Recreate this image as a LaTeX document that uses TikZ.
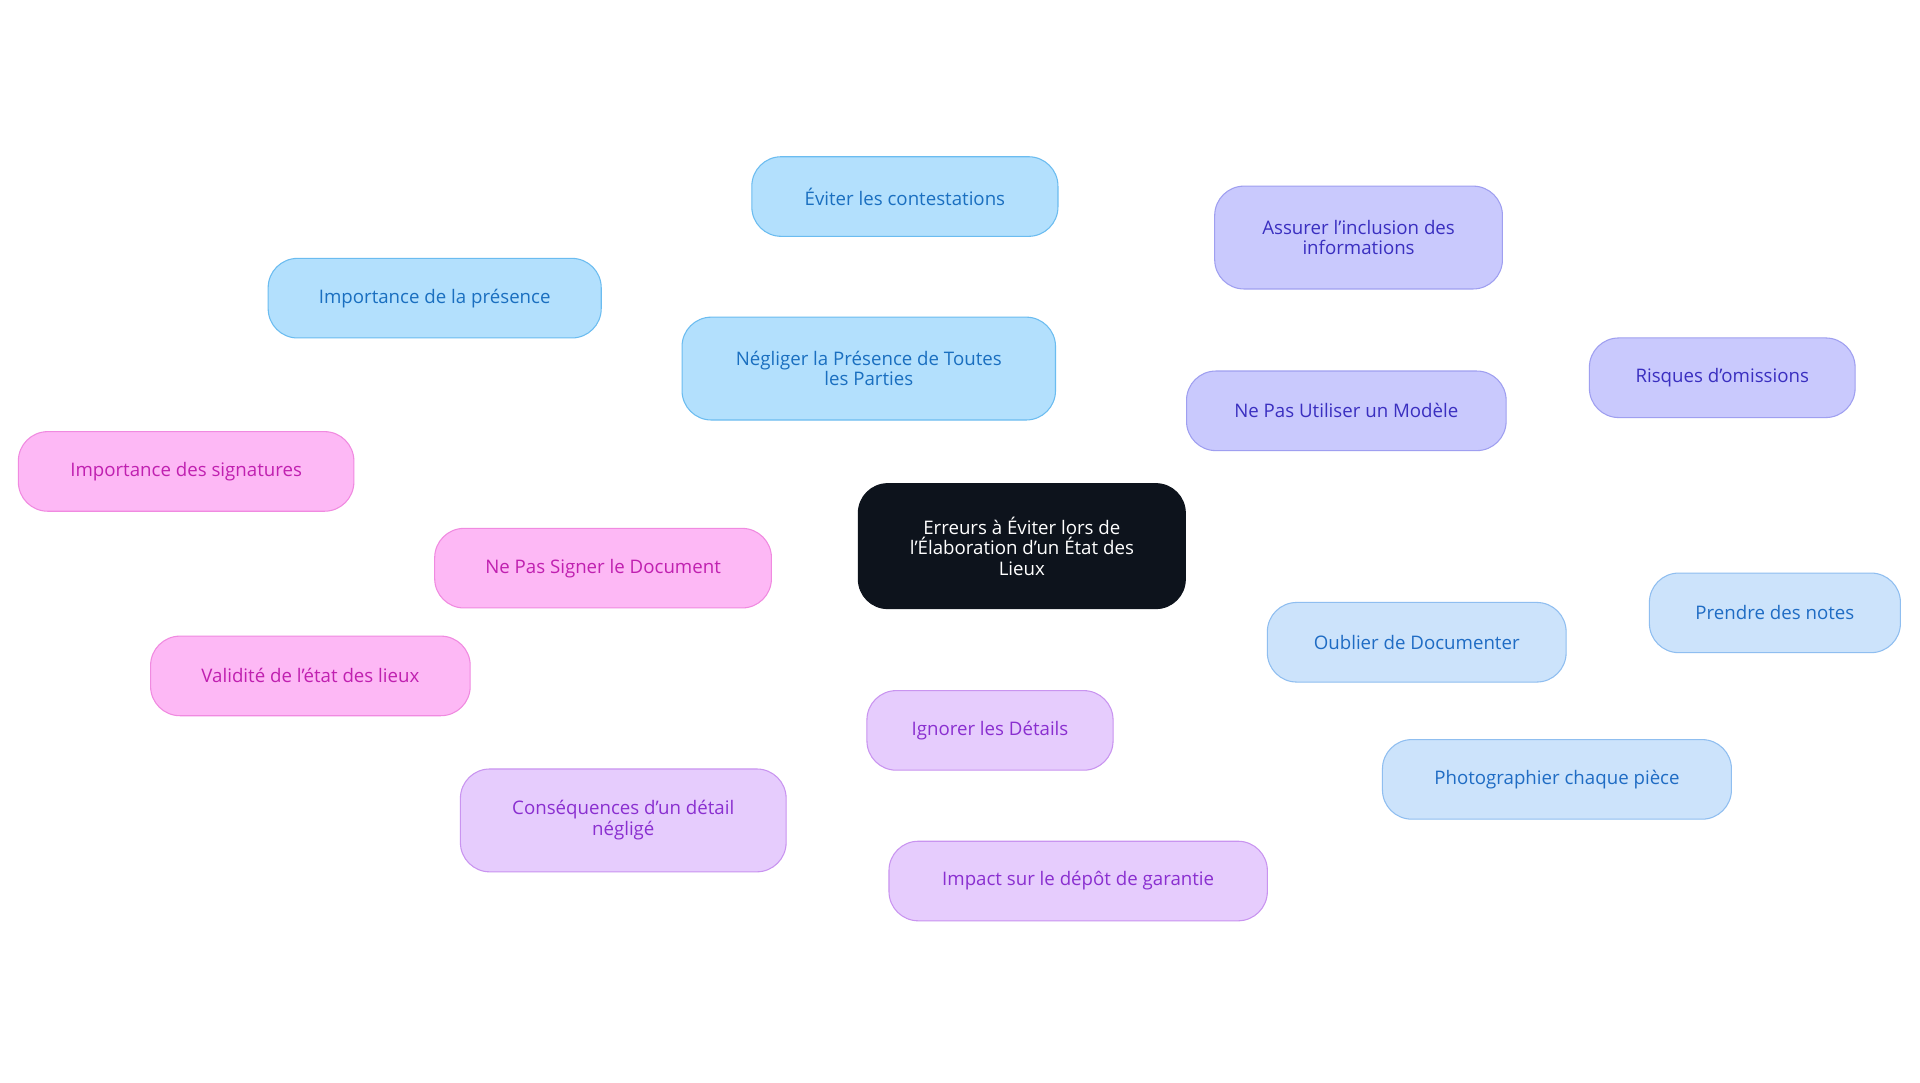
\documentclass[tikz,border=0pt]{standalone}
\usepackage{fontspec}
\setmainfont{Open Sans}
\usetikzlibrary{backgrounds}
\definecolor{cfill}{HTML}{0D131C}
\definecolor{bf}{HTML}{B3E0FD}\definecolor{bb}{HTML}{6BBCF0}\definecolor{bt}{HTML}{1A6FC0}
\definecolor{vf}{HTML}{C9C9FD}\definecolor{vb}{HTML}{9F9FF0}\definecolor{vt}{HTML}{3A2FC0}
\definecolor{lf}{HTML}{CCE3FB}\definecolor{lb}{HTML}{8FBEF0}\definecolor{lt}{HTML}{1F6CC4}
\definecolor{pf}{HTML}{E6CCFD}\definecolor{pb}{HTML}{C994F0}\definecolor{pt}{HTML}{8A2FD0}
\definecolor{mf}{HTML}{FDB8F5}\definecolor{mb}{HTML}{F08AE0}\definecolor{mt}{HTML}{C020B0}
\begin{document}
\begin{tikzpicture}[x=0.918pt,y=-0.918pt,
  box/.style n args={4}{draw=#2,fill=#1,text=#3,rounded corners=22pt,line width=0.8pt,
    minimum width=#4*0.918pt,align=center,font=\fontsize{14}{15.5}\selectfont,inner sep=0pt},
  bx/.style 2 args={box={#1}{#2}{#1t}{0}},
  e/.style={line width=1.6pt}]
\useasboundingbox[fill=white] (0,0) rectangle (1568,884);
\node[box={cfill}{cfill}{white}{267},minimum height=102*0.918pt] (c) at (834.5,446) {Erreurs à Éviter lors de\\l'Élaboration d'un État des\\Lieux};
% blue
\node[box={bf}{bb}{bt}{305},minimum height=84*0.918pt] (n1) at (709.5,301) {Négliger la Présence de Toutes\\les Parties};
\node[box={bf}{bb}{bt}{250},minimum height=65*0.918pt] (n1a) at (739,160.5) {Éviter les contestations};
\node[box={bf}{bb}{bt}{272},minimum height=65*0.918pt] (n1b) at (355,243.5) {Importance de la présence};
% violet
\node[box={vf}{vb}{vt}{261},minimum height=65*0.918pt] (n2) at (1099.5,335.5) {Ne Pas Utiliser un Modèle};
\node[box={vf}{vb}{vt}{235},minimum height=84*0.918pt] (n2a) at (1109.5,194) {Assurer l'inclusion des\\informations};
\node[box={vf}{vb}{vt}{217},minimum height=65*0.918pt] (n2b) at (1406.5,308.5) {Risques d'omissions};
% light blue
\node[box={lf}{lb}{lt}{244},minimum height=65*0.918pt] (n3) at (1157,524.5) {Oublier de Documenter};
\node[box={lf}{lb}{lt}{205},minimum height=65*0.918pt] (n3a) at (1449.5,500.5) {Prendre des notes};
\node[box={lf}{lb}{lt}{285},minimum height=65*0.918pt] (n3b) at (1271.5,636.5) {Photographier chaque pièce};
% purple
\node[box={pf}{pb}{pt}{201},minimum height=65*0.918pt] (n4) at (808.5,596.5) {Ignorer les Détails};
\node[box={pf}{pb}{pt}{266},minimum height=84*0.918pt] (n4a) at (509,670) {Conséquences d'un détail\\négligé};
\node[box={pf}{pb}{pt}{309},minimum height=65*0.918pt] (n4b) at (880.5,719.5) {Impact sur le dépôt de garantie};
% pink
\node[box={mf}{mb}{mt}{275},minimum height=65*0.918pt] (n5) at (492.5,464) {Ne Pas Signer le Document};
\node[box={mf}{mb}{mt}{274},minimum height=65*0.918pt] (n5a) at (152,385) {Importance des signatures};
\node[box={mf}{mb}{mt}{261},minimum height=65*0.918pt] (n5b) at (253.5,552) {Validité de l'état des lieux};
\begin{scope}[on background layer]
\draw[e,bb] (c)--(n1) (n1)--(n1a) (n1)--(n1b);
\draw[e,vb] (c)--(n2) (n2)--(n2a) (n2)--(n2b);
\draw[e,lb] (c)--(n3) (n3)--(n3a) (n3)--(n3b);
\draw[e,pb] (c)--(n4) (n4)--(n4a) (n4)--(n4b);
\draw[e,mb] (c)--(n5) (n5)--(n5a) (n5)--(n5b);
\end{scope}
\end{tikzpicture}
\end{document}
